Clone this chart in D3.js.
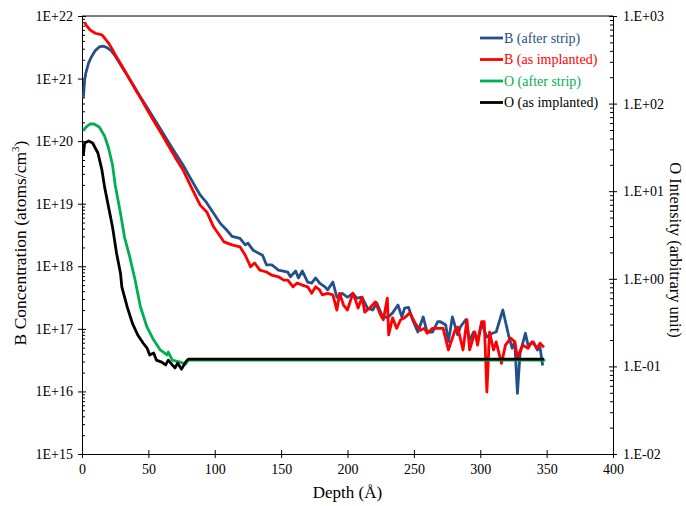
<!DOCTYPE html>
<html>
<head>
<meta charset="utf-8">
<script src="https://cdn.jsdelivr.net/npm/d3@7"></script>
<style>
    body { margin: 0; background: #fff; }
    svg { display: block; }
    text { font-family: "Liberation Serif", "Times New Roman", serif; }
    .axis path, .axis line { stroke: #000; }
    .axis text { font-size: 14px; fill: #000; font-family: "Liberation Serif", "Times New Roman", serif; }
</style>
</head>
<body>
<svg id="chart" width="686" height="506"></svg>
<script>
// tick labels
var depthTicks = [0, 50, 100, 150, 200, 250, 300, 350, 400];
var leftTicks = [1e15, 1e16, 1e17, 1e18, 1e19, 1e20, 1e21, 1e22];
var leftLabels = ["1E+15", "1E+16", "1E+17", "1E+18", "1E+19", "1E+20", "1E+21", "1E+22"];
var rightTicks = [0.01, 0.1, 1, 10, 100, 1000];
var rightLabels = ["1.E-02", "1.E-01", "1.E+00", "1.E+01", "1.E+02", "1.E+03"];

// B (after strip), atoms/cm3
var bStripDepth = [1, 2, 3, 5, 7, 10, 13, 16, 19, 22, 25, 30, 35, 40, 45, 50, 55, 60, 65, 70, 76, 82, 89, 94, 99, 104, 109, 113, 119, 123, 125, 129, 136, 139, 143, 148, 155, 157, 161, 163, 166, 170, 173, 176, 179, 183, 185, 189, 192, 196, 200, 204, 207, 211, 215, 219, 222, 226, 230, 234, 238, 241, 243, 246, 249, 253, 257, 260, 264, 268, 270, 274, 276, 279, 283, 285, 289, 292, 295, 298, 301, 305, 309, 312, 317, 321, 324, 326, 328, 330, 334, 336, 340, 343, 345, 347];
var bStripConc = [4.9e20, 9.6e20, 1.26e21, 1.78e21, 2.2e21, 2.8e21, 3.2e21, 3.3e21, 3.1e21, 2.8e21, 2.3e21, 1.55e21, 1.05e21, 7.1e20, 4.7e20, 3.2e20, 2.15e20, 1.45e20, 9.8e19, 6.6e19, 4.2e19, 2.5e19, 1.38e19, 1.03e19, 7.1e18, 4.9e18, 3.8e18, 3.0e18, 2.8e18, 2.2e18, 2.35e18, 1.8e18, 1.5e18, 1.05e18, 1.05e18, 8.7e17, 8.1e17, 6.8e17, 8.4e17, 6.5e17, 8.4e17, 5.6e17, 5.4e17, 6.5e17, 5.4e17, 4.7e17, 4.2e17, 5.6e17, 3.2e17, 3.7e17, 3.2e17, 3.7e17, 3.1e17, 3.2e17, 2.15e17, 2.0e17, 2.6e17, 1.65e17, 1.5e17, 1.8e17, 2.4e17, 1.55e17, 2.15e17, 2.2e17, 1.4e17, 8.9e16, 1.55e17, 8.9e16, 8.9e16, 1.3e17, 1.3e17, 1.15e17, 6.2e16, 1.55e17, 8.0e16, 1.07e17, 1.4e17, 6.6e16, 8.9e16, 6.6e16, 1.23e17, 7.4e16, 8.5e16, 8.9e16, 2.0e17, 8.5e16, 4.9e16, 6.2e16, 9.3e15, 4.1e16, 8.5e16, 5.5e16, 6.2e16, 4.6e16, 5.1e16, 2.6e16];

// B (as implanted), atoms/cm3
var bImplDepth = [2, 3, 6, 10, 15, 17, 20, 23, 25, 30, 35, 40, 45, 50, 55, 60, 65, 70, 76, 82, 89, 94, 99, 102, 107, 113, 119, 123, 127, 130, 134, 139, 143, 148, 152, 155, 159, 162, 166, 170, 173, 176, 179, 181, 185, 189, 192, 194, 197, 200, 204, 206, 208, 211, 213, 217, 221, 225, 227, 230, 231, 234, 237, 240, 243, 247, 251, 255, 258, 260, 264, 268, 272, 276, 281, 283, 287, 290, 292, 296, 298, 301, 303, 305, 307, 310, 312, 316, 319, 323, 326, 328, 332, 336, 339, 343, 345, 348];
var bImplConc = [8.0e21, 7.2e21, 6.0e21, 5.3e21, 5.0e21, 4.45e21, 3.7e21, 2.9e21, 2.4e21, 1.6e21, 1.05e21, 6.8e20, 4.55e20, 2.95e20, 1.95e20, 1.3e20, 8.5e19, 5.6e19, 3.5e19, 1.9e19, 9.5e18, 7.4e18, 4.3e18, 3.5e18, 2.45e18, 2.2e18, 2.05e18, 1.5e18, 9.8e17, 1.13e18, 8.7e17, 8.1e17, 7.2e17, 6.8e17, 6.0e17, 6.0e17, 4.7e17, 5.4e17, 5.0e17, 4.7e17, 3.7e17, 4.7e17, 4.2e17, 3.5e17, 3.7e17, 3.5e17, 2.0e17, 3.7e17, 2.4e17, 2.0e17, 3.7e17, 2.9e17, 2.15e17, 3.2e17, 1.85e17, 2.2e17, 2.7e17, 1.65e17, 1.4e17, 3.1e17, 8.0e16, 1.5e17, 1.02e17, 1.4e17, 1.5e17, 1.8e17, 1.23e17, 9.5e16, 1.02e17, 8.5e16, 1.02e17, 1.02e17, 1.02e17, 4.6e16, 9.5e16, 1.07e17, 4.6e16, 1.4e17, 4.6e16, 8.9e16, 5.5e16, 1.3e17, 1.3e17, 9.8e15, 8.9e16, 4.6e16, 6.2e16, 2.8e16, 5.5e16, 7.1e16, 6.2e16, 3.5e16, 5.5e16, 4.9e16, 6.2e16, 4.9e16, 5.9e16, 5.1e16];

// O (after strip), arbitrary units
var oStripDepth = [1, 3, 6, 9, 13, 17, 20, 23, 25, 29, 32, 36, 40, 44, 49, 54, 59, 64, 65, 68, 74, 78, 80, 349];
var oStripInt = [48.7, 54, 58.5, 58.5, 54, 42.7, 31.1, 19.9, 11.8, 5.6, 3.0, 1.77, 0.97, 0.48, 0.28, 0.20, 0.154, 0.135, 0.146, 0.118, 0.112, 0.106, 0.118, 0.118];

// O (as implanted), arbitrary units
var oImplDepth = [1, 2, 5, 8, 12, 15, 17, 20, 23, 26, 29, 30, 34, 38, 42, 46, 49, 51, 54, 56, 60, 63, 65, 68, 70, 72, 75, 78, 80, 348];
var oImplInt = [25.9, 35.5, 37.4, 35.5, 27.3, 17.5, 11.2, 6.6, 3.9, 1.97, 1.16, 0.81, 0.48, 0.31, 0.228, 0.185, 0.162, 0.135, 0.142, 0.118, 0.112, 0.104, 0.118, 0.104, 0.096, 0.109, 0.093, 0.112, 0.121, 0.121];

var seriesNames = ["B (after strip)", "B (as implanted)", "O (after strip)", "O (as implanted)"];
var seriesColors = ["#25508a", "#ff0000", "#00b050", "#000000"];

(function(){
    "use strict";

    var svg = d3.select("#chart");
    var left = 82, right = 613, top = 16, bottom = 454;

    var x = d3.scaleLinear().domain([0, 400]).range([left, right]);
    var yL = d3.scaleLog().domain([1e15, 1e22]).range([bottom, top]);
    var yR = d3.scaleLog().domain([0.01, 1000]).range([bottom, top]);

    /*
        minor ticks 2..9 of every decade in the domain
    */
    function minorTicks(domain){
        var out = [];
        var lo = Math.round(Math.log10(domain[0])), hi = Math.round(Math.log10(domain[1]));
        for(var e = lo; e < hi; e++){
            for(var m = 2; m <= 9; m++){
                out.push(m * Math.pow(10, e));
            }
        }
        return out;
    }

    // top border
    svg.append("line")
        .attr("x1", left).attr("x2", right)
        .attr("y1", top).attr("y2", top)
        .attr("stroke", "#000");

    // x axis, ticks cross the line
    svg.append("g").attr("class", "axis")
        .attr("transform", "translate(0," + bottom + ")")
        .call(d3.axisBottom(x).tickValues(depthTicks).tickSizeInner(4).tickSizeOuter(0).tickPadding(6).tickFormat(d3.format("d")));
    svg.append("g").attr("class", "axis")
        .attr("transform", "translate(0," + bottom + ")")
        .call(d3.axisTop(x).tickValues(depthTicks).tickSizeInner(4).tickSizeOuter(0).tickFormat(""))
        .select(".domain").remove();

    // left axis
    svg.append("g").attr("class", "axis")
        .attr("transform", "translate(" + left + ",0)")
        .call(d3.axisLeft(yL).tickValues(leftTicks).tickSizeInner(4).tickSizeOuter(0).tickPadding(5)
            .tickFormat(function(d, i){ return leftLabels[i]; }));
    svg.append("g").attr("class", "axis")
        .attr("transform", "translate(" + left + ",0)")
        .call(d3.axisRight(yL).tickValues(leftTicks).tickSizeInner(4).tickSizeOuter(0).tickFormat(""))
        .select(".domain").remove();
    svg.append("g").attr("class", "axis")
        .attr("transform", "translate(" + left + ",0)")
        .call(d3.axisRight(yL).tickValues(minorTicks(yL.domain())).tickSizeInner(3).tickSizeOuter(0).tickFormat(""))
        .select(".domain").remove();

    // right axis
    svg.append("g").attr("class", "axis")
        .attr("transform", "translate(" + right + ",0)")
        .call(d3.axisRight(yR).tickValues(rightTicks).tickSizeInner(4).tickSizeOuter(0).tickPadding(6)
            .tickFormat(function(d, i){ return rightLabels[i]; }));
    svg.append("g").attr("class", "axis")
        .attr("transform", "translate(" + right + ",0)")
        .call(d3.axisLeft(yR).tickValues(rightTicks).tickSizeInner(4).tickSizeOuter(0).tickFormat(""))
        .select(".domain").remove();
    svg.append("g").attr("class", "axis")
        .attr("transform", "translate(" + right + ",0)")
        .call(d3.axisLeft(yR).tickValues(minorTicks(yR.domain())).tickSizeInner(3).tickSizeOuter(0).tickFormat(""))
        .select(".domain").remove();

    // axis titles
    svg.append("text")
        .attr("x", (left + right) / 2).attr("y", 498)
        .attr("text-anchor", "middle").attr("font-size", "17px")
        .text("Depth (Å)");

    var lt = svg.append("text")
        .attr("transform", "translate(26," + 243 + ") rotate(-90)")
        .attr("text-anchor", "middle").attr("font-size", "17.5px");
    lt.append("tspan").text("B Concentration (atoms/cm");
    lt.append("tspan").attr("font-size", "11px").attr("dy", "-7").text("3");
    lt.append("tspan").attr("dy", "7").text(")");

    svg.append("text")
        .attr("transform", "translate(670," + 250 + ") rotate(90)")
        .attr("text-anchor", "middle").attr("font-size", "16.5px")
        .text("O Intensity (arbitrary unit)");

    // series
    var series = [
        {depth: bStripDepth, vals: bStripConc, y: yL},
        {depth: bImplDepth, vals: bImplConc, y: yL},
        {depth: oStripDepth, vals: oStripInt, y: yR},
        {depth: oImplDepth, vals: oImplInt, y: yR}
    ];

    series.forEach(function(s, i){
        var pts = s.depth.map(function(d, j){ return [d, s.vals[j]]; });
        var line = d3.line()
            .x(function(p){ return x(p[0]); })
            .y(function(p){ return s.y(p[1]); });
        svg.append("path")
            .datum(pts)
            .attr("d", line)
            .attr("fill", "none")
            .attr("stroke", seriesColors[i])
            .attr("stroke-width", 2.8)
            .attr("stroke-linejoin", "round");
    });

    // legend
    var legend = svg.append("g").attr("transform", "translate(480,38)");
    seriesNames.forEach(function(name, i){
        var g = legend.append("g").attr("transform", "translate(0," + (i * 21.5) + ")");
        g.append("line")
            .attr("x1", 0).attr("x2", 23)
            .attr("stroke", seriesColors[i]).attr("stroke-width", 2.8);
        g.append("text")
            .attr("x", 24).attr("dy", "0.35em")
            .attr("font-size", "14px")
            .attr("fill", seriesColors[i])
            .text(name);
    });
}());
</script>
</body>
</html>
